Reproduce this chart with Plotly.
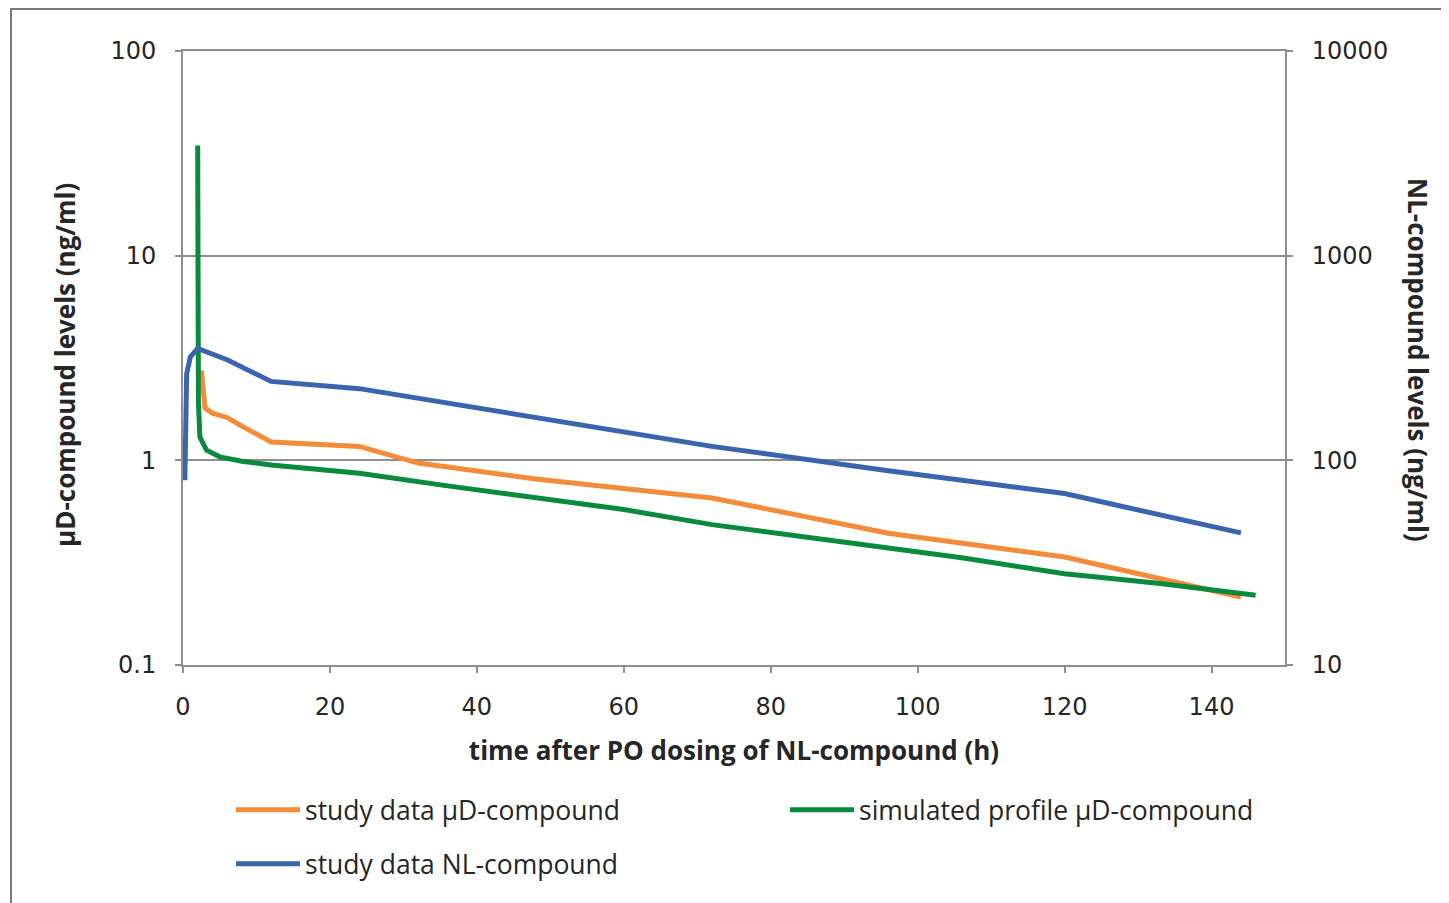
import plotly.graph_objects as go

# ---- data ----
t_orange = [2.5, 3, 4, 6, 8, 12, 24, 32, 48, 72, 96, 120, 144]
v_orange = [2.75, 1.8, 1.7, 1.62, 1.47, 1.23, 1.17, 0.97, 0.81, 0.655, 0.44, 0.337, 0.215]

t_green = [2, 2.1, 2.3, 3.2, 5, 8, 12, 24, 36, 48, 60, 72, 84, 96, 106, 120, 133, 146]
v_green = [34.5, 1.9, 1.3, 1.12, 1.04, 0.99, 0.95, 0.865, 0.75, 0.656, 0.575, 0.485, 0.425,
           0.377, 0.334, 0.279, 0.25, 0.219]

t_blue = [0.25, 0.5, 1, 2, 6, 12, 24, 48, 72, 96, 120, 144]
v_blue = [80, 265, 320, 352, 310, 243, 224, 161, 117, 89, 68.8, 44.2]

names = ["study data µD-compound", "simulated profile µD-compound", "study data NL-compound"]
colors = ["#F38B3A", "#0A8A3C", "#3A64AE"]

x_ticks = [0, 20, 40, 60, 80, 100, 120, 140]
y_left_ticks = [0.1, 1, 10, 100]
y_left_text = ["0.1", "1", "10", "100"]
y_right_ticks = [10, 100, 1000, 10000]
y_right_text = ["10", "100", "1000", "10000"]

x_title = "time after PO dosing of NL-compound (h)"
y_left_title = "µD-compound levels (ng/ml)"
y_right_title = "NL-compound levels (ng/ml)"

FONT = "Open Sans, Lato, sans-serif"
TICKFONT = "DejaVu Sans, Open Sans, sans-serif"
GRAY = "#8E8E8E"
TXT = "#262626"

# page body has an 8px margin: work in screen pixels, figure is offset by OFF
OFF = 8
W, H = 1449 - OFF, 903 - OFF
PL, PR, PT, PB = 183, 1285, 51, 665          # plot area in screen pixels
L, R, T, B = PL - OFF, W - (PR - OFF), PT - OFF, H - (PB - OFF)
PW, PH = PR - PL, PB - PT


def px_x(p):
    return (p - PL) / PW


def px_y(p):
    return (PB - p) / PH


fig = go.Figure()
fig.add_trace(go.Scatter(x=t_orange, y=v_orange, mode="lines", name=names[0],
                         line=dict(color=colors[0], width=5), legend="legend"))
fig.add_trace(go.Scatter(x=t_green, y=v_green, mode="lines", name=names[1],
                         line=dict(color=colors[1], width=5), legend="legend2"))
fig.add_trace(go.Scatter(x=t_blue, y=v_blue, mode="lines", name=names[2],
                         line=dict(color=colors[2], width=5), yaxis="y2", legend="legend3"))

leg_common = dict(orientation="h", xanchor="left", yanchor="middle", itemwidth=64,
                  font=dict(family=FONT, size=26.5, color=TXT), bgcolor="rgba(0,0,0,0)")

tickfont = dict(family=TICKFONT, size=24, color=TXT)
titlefont = dict(family=FONT, size=26, color=TXT)

fig.update_layout(
    width=W, height=H,
    margin=dict(l=L, r=R, t=T, b=B, pad=0),
    paper_bgcolor="white", plot_bgcolor="white",
    font=dict(family=FONT, size=24, color=TXT),
    showlegend=True,
    legend=dict(x=px_x(231), y=px_y(810), **leg_common),
    legend2=dict(x=px_x(785), y=px_y(810), **leg_common),
    legend3=dict(x=px_x(231), y=px_y(864), **leg_common),
    xaxis=dict(
        range=[0, 150], tickvals=x_ticks, showgrid=False, zeroline=False,
        showline=True, mirror=True, linecolor=GRAY, linewidth=2,
        ticks="outside", ticklen=6, tickcolor=GRAY, tickwidth=2,
        ticklabelstandoff=13, tickfont=tickfont,
        title=dict(text="<b>" + x_title + "</b>", standoff=22, font=titlefont),
    ),
    yaxis=dict(
        type="log", range=[-1, 2], tickvals=y_left_ticks, ticktext=y_left_text,
        showgrid=True, gridcolor=GRAY, gridwidth=2, zeroline=False,
        showline=True, linecolor=GRAY, linewidth=2,
        ticks="outside", ticklen=6, tickcolor=GRAY, tickwidth=2,
        ticklabelstandoff=14, tickfont=tickfont,
    ),
    yaxis2=dict(
        type="log", range=[1, 4], tickvals=y_right_ticks, ticktext=y_right_text,
        overlaying="y", side="right", showgrid=False, zeroline=False,
        showline=True, linecolor=GRAY, linewidth=2,
        ticks="outside", ticklen=6, tickcolor=GRAY, tickwidth=2,
        ticklabelstandoff=14, tickfont=tickfont,
    ),
    annotations=[
        dict(text="<b>" + y_left_title + "</b>", xref="paper", yref="paper",
             x=px_x(65), y=px_y(365), textangle=-90, showarrow=False,
             xanchor="center", yanchor="middle", font=titlefont),
        dict(text="<b>" + y_right_title + "</b>", xref="paper", yref="paper",
             x=px_x(1418), y=px_y(360), textangle=90, showarrow=False,
             xanchor="center", yanchor="middle", font=titlefont),
    ],
    shapes=[
        dict(type="rect", xref="paper", yref="paper",
             x0=px_x(11), x1=px_x(1470), y0=px_y(930), y1=px_y(9),
             line=dict(color="#7A7A7A", width=2), fillcolor="rgba(0,0,0,0)",
             layer="below"),
    ],
)

fig.write_html("out.html")
